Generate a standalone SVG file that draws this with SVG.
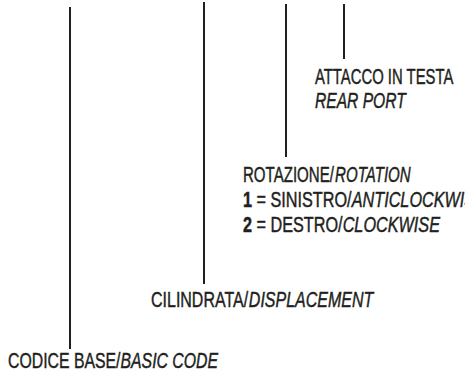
<svg xmlns="http://www.w3.org/2000/svg" width="465" height="376" viewBox="0 0 465 376">
<style>
.t{font-family:"Liberation Sans",Arial,sans-serif;font-size:21.5px;fill:#231f20;stroke:#231f20;stroke-width:0.45}
.i{font-style:italic}
.b{font-weight:bold}
.ln{stroke:#231f20;stroke-width:2;fill:none}
</style>
<rect width="465" height="376" fill="#fff"/>
<g id="connectors">
<line class="ln" x1="70" y1="7" x2="70" y2="349"/>
<line class="ln" x1="204" y1="2" x2="204" y2="284"/>
<line class="ln" x1="286" y1="4" x2="286" y2="157"/>
<line class="ln" x1="344" y1="4" x2="344" y2="59"/>
</g>
<g id="attacco">
<g transform="translate(315 84) scale(0.691 1)"><text class="t" x="0" y="0">ATTACCO IN TESTA</text></g>
<g transform="translate(315 108) scale(0.726 1)"><text class="t i" x="0" y="0">REAR PORT</text></g>
</g>
<g id="rotazione">
<g transform="translate(243 182) scale(0.701 1)"><text class="t" x="0" y="0">ROTAZIONE/</text><text class="t i" x="131.4" y="0">ROTATION</text></g>
<g transform="translate(243 207) scale(0.755 1)"><text class="t b" x="0" y="0">1</text><text class="t" x="17.9" y="0">= SINISTRO/</text><text class="t i" x="144" y="0">ANTICLOCKWISE</text></g>
<g transform="translate(243 232) scale(0.755 1)"><text class="t b" x="0" y="0">2</text><text class="t" x="17.9" y="0">= DESTRO/</text><text class="t i" x="132" y="0">CLOCKWISE</text></g>
</g>
<g id="cilindrata">
<g transform="translate(151 307) scale(0.744 1)"><text class="t" x="0" y="0">CILINDRATA/</text><text class="t i" x="131.5" y="0">DISPLACEMENT</text></g>
</g>
<g id="codice">
<g transform="translate(8 368) scale(0.736 1)"><text class="t" x="0" y="0">CODICE BASE/</text><text class="t i" x="152.9" y="0">BASIC CODE</text></g>
</g>
</svg>
